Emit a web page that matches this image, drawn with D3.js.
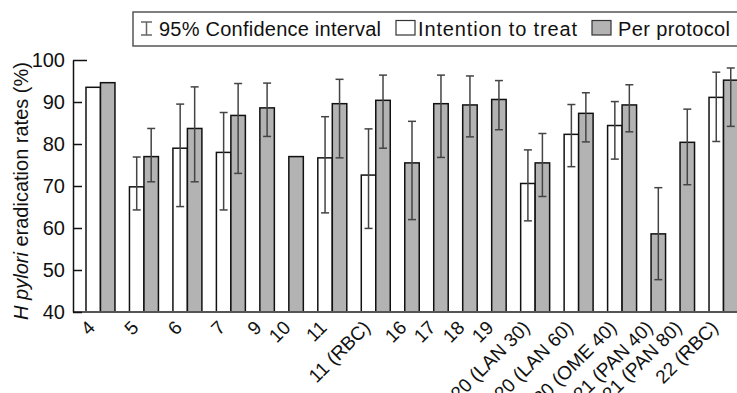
<!DOCTYPE html>
<html>
<head>
<meta charset="utf-8">
<script src="https://cdn.jsdelivr.net/npm/d3@7"></script>
<style>
  html, body { margin: 0; padding: 0; background: #fff; }
  svg { display: block; font-family: "Liberation Sans", Arial, Helvetica, sans-serif; }
</style>
</head>
<body>
<svg id="chart" width="737" height="393"></svg>
<script>
// ---- Data ----
const categories = ["4","5","6","7","9","10","11","11 (RBC)","16","17","18","19",
  "20 (LAN 30)","20 (LAN 60)","20 (OME 40)","21 (PAN 40)","21 (PAN 80)","22 (RBC)"];
const ittValues = [93.5, 69.8, 79.0, 78.0, null, null, 76.7, 72.6, null, null, null, null, 70.6, 82.3, 84.4, null, null, 91.1];
const ittLow    = [null, 64.3, 65.1, 64.3, null, null, 63.6, 59.9, null, null, null, null, 61.7, 74.6, 76.4, null, null, 80.6];
const ittHigh   = [null, 76.9, 89.5, 87.5, null, null, 86.5, 83.6, null, null, null, null, 78.6, 89.4, 90.1, null, null, 97.1];
const ppValues  = [94.6, 77.0, 83.7, 86.8, 88.6, 77.0, 89.6, 90.4, 75.5, 89.6, 89.3, 90.6, 75.5, 87.3, 89.3, 58.6, 80.4, 95.2];
const ppLow     = [null, 71.0, 71.0, 73.0, 81.8, null, 76.7, 79.0, 62.0, 76.8, 81.7, 83.4, 67.5, 80.5, 82.9, 47.7, 70.3, 84.2];
const ppHigh    = [null, 83.7, 93.6, 94.4, 94.5, null, 95.4, 96.4, 85.4, 96.4, 96.2, 95.1, 82.5, 92.2, 94.1, 69.6, 88.3, 98.1];
const yTicks = [40, 50, 60, 70, 80, 90, 100];
const legendLabels = ["95% Confidence interval", "Intention to treat", "Per protocol"];

// ---- Layout ----
const svg = d3.select("#chart");
const x0 = 73, yBase = 312, yTop = 60;
const y = d3.scaleLinear().domain([40, 100]).range([yBase, yTop]);

// slot sequence: one empty slot before each group, one slot per bar
const slots = [];
categories.forEach((c, i) => {
  slots.push("gap" + i);
  if (ittValues[i] != null) slots.push(i + "-itt");
  slots.push(i + "-pp");
});
const x = d3.scaleBand().domain(slots).range([71.5, 738]).padding(0);
const bw = x.bandwidth();

const bars = [];
categories.forEach((c, i) => {
  if (ittValues[i] != null) bars.push({key: i + "-itt", v: ittValues[i], lo: ittLow[i], hi: ittHigh[i], type: "itt"});
  bars.push({key: i + "-pp", v: ppValues[i], lo: ppLow[i], hi: ppHigh[i], type: "pp"});
});

// bars
svg.append("g").selectAll("rect").data(bars).join("rect")
  .attr("x", d => x(d.key))
  .attr("y", d => y(d.v))
  .attr("width", bw)
  .attr("height", d => y(40) - y(d.v))
  .attr("fill", d => d.type === "pp" ? "#b3b3b3" : "#fff")
  .attr("stroke", "#111")
  .attr("stroke-width", 1.5);

// error bars
const eb = svg.append("g").attr("stroke", "#444").attr("stroke-width", 1.5).attr("fill", "none");
bars.filter(d => d.lo != null).forEach(d => {
  const cx = x(d.key) + bw / 2;
  eb.append("line").attr("x1", cx).attr("x2", cx).attr("y1", y(d.hi)).attr("y2", y(d.lo));
  eb.append("line").attr("x1", cx - 4).attr("x2", cx + 4).attr("y1", y(d.hi)).attr("y2", y(d.hi));
  eb.append("line").attr("x1", cx - 4).attr("x2", cx + 4).attr("y1", y(d.lo)).attr("y2", y(d.lo));
});

// x axis line
svg.append("line").attr("x1", x0).attr("x2", x.range()[1]).attr("y1", yBase).attr("y2", yBase)
  .attr("stroke", "#555").attr("stroke-width", 2);

// y axis
const yAxis = d3.axisLeft(y).tickValues(yTicks).tickSize(-9).tickSizeOuter(0).tickPadding(8);
const ga = svg.append("g").attr("transform", `translate(${x0},0)`).call(yAxis);
ga.select(".domain").attr("stroke", "#111").attr("stroke-width", 1.5);
ga.selectAll(".tick line").attr("stroke", "#111").attr("stroke-width", 1.5);
ga.selectAll(".tick").filter(d => d === 100).select("line").attr("x2", 14);
ga.selectAll(".tick text").attr("font-size", 20).attr("fill", "#111")
  .attr("font-family", "'Liberation Sans', Arial, sans-serif");

// x labels
categories.forEach((c, i) => {
  const cx = ittValues[i] != null ? x(i + "-pp") : x(i + "-pp") + bw / 2;
  svg.append("text")
    .attr("transform", `translate(${cx - 9},${yBase + 12}) rotate(-45)`)
    .attr("text-anchor", "end")
    .attr("dy", "0.35em")
    .attr("font-size", 19)
    .attr("fill", "#111")
    .text(c);
});

// y title
const yt = svg.append("text")
  .attr("transform", `translate(28,${(yBase + yTop) / 2 + 5}) rotate(-90)`)
  .attr("text-anchor", "middle")
  .attr("font-size", 20)
  .attr("fill", "#111");
yt.append("tspan").attr("font-style", "italic").text("H pylori");
yt.append("tspan").text(" eradication rates (%)");

// legend
const lg = svg.append("g");
lg.append("rect").attr("x", 133).attr("y", 12).attr("width", 620).attr("height", 34)
  .attr("fill", "#fff").attr("stroke", "#555").attr("stroke-width", 1.5);
const ci = lg.append("g").attr("stroke", "#666").attr("stroke-width", 1.5);
ci.append("line").attr("x1", 146.5).attr("x2", 146.5).attr("y1", 22).attr("y2", 35);
ci.append("line").attr("x1", 141).attr("x2", 152).attr("y1", 22).attr("y2", 22);
ci.append("line").attr("x1", 141).attr("x2", 152).attr("y1", 35).attr("y2", 35);
lg.append("text").attr("x", 159).attr("y", 35.5).attr("font-size", 20).attr("fill", "#111")
  .attr("textLength", 222).attr("lengthAdjust", "spacing").text(legendLabels[0]);
lg.append("rect").attr("x", 396).attr("y", 20.5).attr("width", 19).attr("height", 14.5)
  .attr("fill", "#fff").attr("stroke", "#333").attr("stroke-width", 1.2);
lg.append("text").attr("x", 418).attr("y", 35.5).attr("font-size", 20).attr("fill", "#111")
  .attr("textLength", 159).attr("lengthAdjust", "spacing").text(legendLabels[1]);
lg.append("rect").attr("x", 592).attr("y", 20.5).attr("width", 19).attr("height", 14.5)
  .attr("fill", "#b3b3b3").attr("stroke", "#333").attr("stroke-width", 1.2);
lg.append("text").attr("x", 618).attr("y", 35.5).attr("font-size", 20).attr("fill", "#111")
  .attr("textLength", 112).attr("lengthAdjust", "spacing").text(legendLabels[2]);
</script>
</body>
</html>
